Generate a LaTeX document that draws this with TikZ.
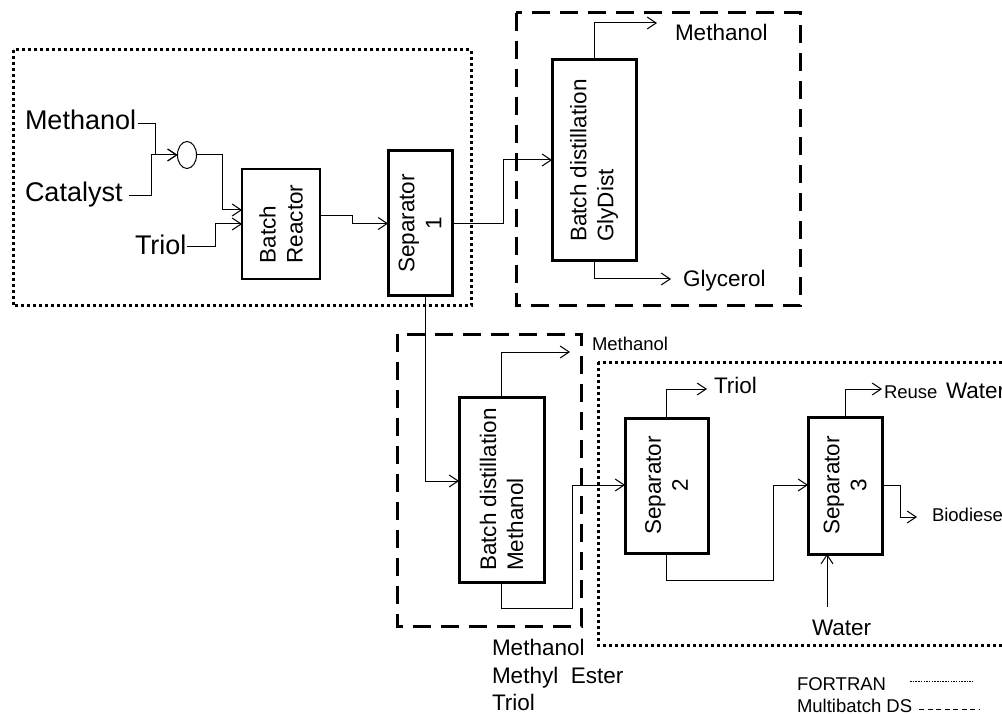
\documentclass[tikz,border=0pt]{standalone}
\usepackage{fontspec}
\setmainfont{Liberation Sans}
\usetikzlibrary{arrows.meta,shapes.geometric}
\begin{document}
\begin{tikzpicture}[x=1pt,y=-1pt,
  every node/.style={inner sep=0pt, outer sep=0pt},
  lbl/.style={anchor=base west, font=\fontsize{22.5}{27}\selectfont},
  biglbl/.style={anchor=base west, font=\fontsize{27}{32}\selectfont},
  smalllbl/.style={anchor=base west, font=\fontsize{18.5}{22}\selectfont},
  unit/.style={draw, line width=3pt, rectangle},
  thinunit/.style={draw, line width=1.2pt, rectangle},
  vtext/.style={rotate=90, font=\fontsize{22.5}{27}\selectfont},
  flow/.style={line width=1pt, -{Straight Barb[length=9pt,width=12pt,line width=1pt]}},
  plain/.style={line width=1pt},
  dotbox/.style={line width=3pt, dash pattern=on 3pt off 3pt},
  dashbox/.style={line width=3pt, dash pattern=on 18pt off 10pt},
  legdot/.style={line width=0.6pt, dash pattern=on 1.5pt off 1.2pt},
  legdash/.style={line width=0.8pt, dash pattern=on 5pt off 3.5pt},
]
\clip (0,0) rectangle (1002,714);
\fill[white] (0,0) rectangle (1002,714);

% group frames
\draw[dotbox] (13,50) rectangle (471,306);
\draw[dashbox] (516,13) rectangle (800,306);
\draw[dashbox] (397,334) rectangle (581,626);
\draw[dotbox] (598,362) rectangle (1012,645);

% units
\node[draw, line width=1pt, ellipse, minimum width=19pt, minimum height=27pt] (mix) at (187,155) {};
\node[thinunit, minimum width=78pt, minimum height=110pt] (reactor) at (281,224) {};
\node[vtext, align=left] (reactort) at (reactor) {Batch\\Reactor};
\node[unit, minimum width=64pt, minimum height=145pt] (sep1) at (420,223.5) {};
\node[vtext, align=center] (sep1t) at (sep1) {Separator\\1};
\node[unit, minimum width=84pt, minimum height=201pt] (gly) at (594,160.5) {};
\node[vtext, align=left] (glyt) at (gly) {Batch distillation\\GlyDist};
\node[unit, minimum width=85pt, minimum height=185pt] (bdm) at (501.5,489.5) {};
\node[vtext, align=left] (bdmt) at (bdm) {Batch distillation\\Methanol};
\node[unit, minimum width=83pt, minimum height=135pt] (sep2) at (666.5,485.5) {};
\node[vtext, align=center] (sep2t) at (sep2) {Separator\\2};
\node[unit, minimum width=74pt, minimum height=137pt] (sep3) at (845,485.5) {};
\node[vtext, align=center] (sep3t) at (sep3) {Separator\\3};

% labels
\node[biglbl] (m1) at (25,130) {Methanol};
\node[biglbl] (cat) at (25,202) {Catalyst};
\node[biglbl] (triol1) at (135,255) {Triol};
\node[lbl] (m2) at (675,41) {Methanol};
\node[lbl] (glyc) at (683,287) {Glycerol};
\node[smalllbl] (m3) at (592,350) {Methanol};
\node[lbl] (triol2) at (714,393) {Triol};
\node[smalllbl] (reuse) at (884,398) {Reuse};
\node[lbl] (water1) at (946,398) {Water};
\node[smalllbl] (bio) at (932,521) {Biodiesel};
\node[lbl] (water2) at (812,635) {Water};
\node[lbl] (outm) at (492,655) {Methanol};
\node[lbl] (outme) at (492,683) {Methyl\ \ Ester};
\node[lbl] (outt) at (492,710) {Triol};
\node[smalllbl] (leg1) at (797,690) {FORTRAN};
\node[smalllbl] (leg2) at (797,712) {Multibatch DS};

% bend points
\coordinate (b1) at (155,155);
\coordinate (b2) at (151,155);
\coordinate (b3) at (222,210);
\coordinate (b3t) at (215,224);
\coordinate (b4) at (352,216);
\coordinate (b5) at (503,160);
\coordinate (gtop) at (657,23);
\coordinate (gbot) at (671,279);
\coordinate (b8) at (425,481);
\coordinate (c9) at (570,352);
\coordinate (c10a) at (572,608);
\coordinate (c10b) at (572,485);
\coordinate (c11) at (707,389);
\coordinate (c12a) at (773,580);
\coordinate (c12b) at (773,485);
\coordinate (c13) at (882,389);
\coordinate (c14) at (900,517);
\coordinate (c14e) at (917,517);
\coordinate (c15) at (827,607);
\coordinate (l1a) at (910,681);
\coordinate (l1b) at (973,681);
\coordinate (l2a) at (919,709);
\coordinate (l2b) at (979,709);

% connectors
\draw[flow] ([xshift=2pt,yshift=-3pt]m1.east) -| (b1) -- (mix.west);
\draw[flow] ([xshift=6pt]cat.east) -| (b2) -- (mix.west);
\draw[flow] (mix.east) -| (b3) -- (b3 -| reactor.west);
\draw[flow] ([xshift=1pt,yshift=-1pt]triol1.east) -| (b3t) -- (b3t -| reactor.west);
\draw[flow] (b4 -| reactor.east) -- (b4) |- (sep1.west);
\draw[flow] (sep1.east) -| (b5) -- (b5 -| gly.west);
\draw[flow] (gly.north) |- (gtop);
\draw[flow] (gly.south) |- (gbot);
\draw[flow] (sep1.south -| b8) -- (b8) -- (b8 -| bdm.west);
\draw[flow] (bdm.north) |- (c9);
\draw[flow] (bdm.south) |- (c10a) -- (c10b) -- (c10b -| sep2.west);
\draw[flow] (sep2.north) |- (c11);
\draw[flow] (sep2.south) |- (c12a) -- (c12b) -- (c12b -| sep3.west);
\draw[flow] (sep3.north) |- (c13);
\draw[flow] (sep3.east) -| (c14) -- (c14e);
\draw[flow] (c15) -- (c15 |- sep3.south);
\draw[legdot] (l1a) -- (l1b);
\draw[legdash] (l2a) -- (l2b);
\end{tikzpicture}
\end{document}
